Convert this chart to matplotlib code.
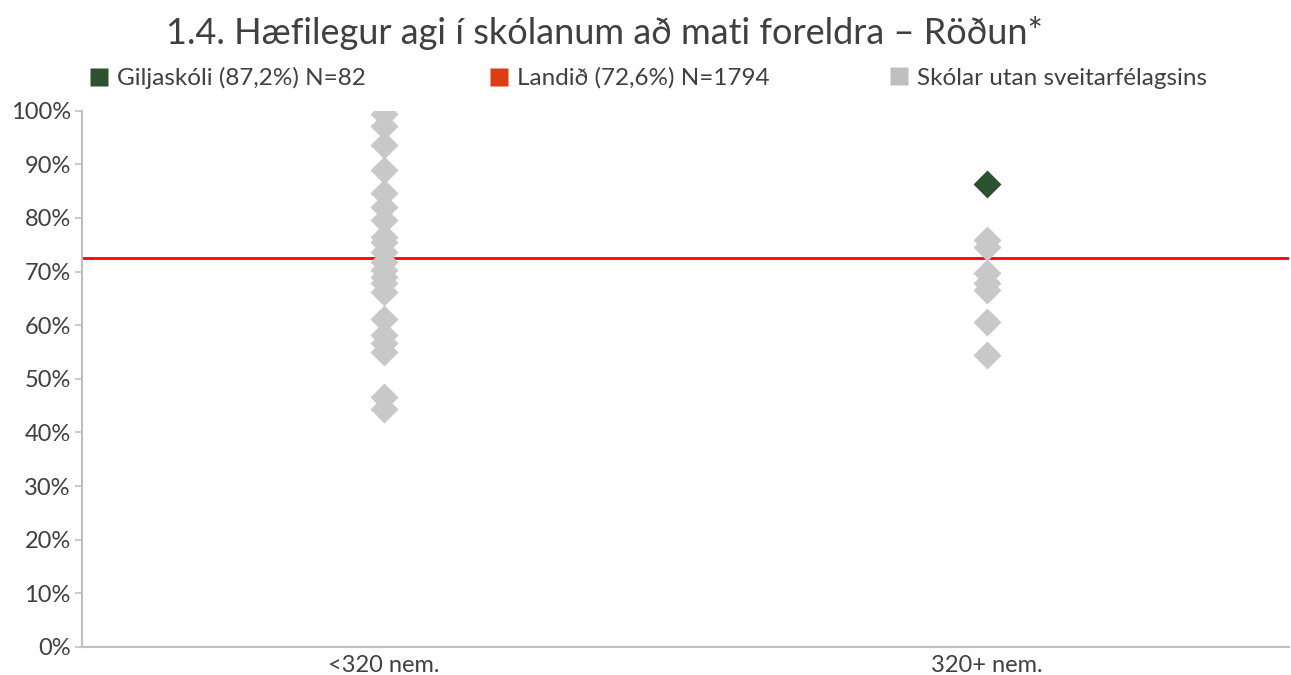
import matplotlib
matplotlib.use('Agg')
import matplotlib.pyplot as plt
from matplotlib.lines import Line2D
from matplotlib.ticker import FuncFormatter

plt.rcParams['font.family'] = ['Lato', 'DejaVu Sans']

# gögn lesin af myndinni
categories = ['<320 nem.', '320+ nem.']
other_small = [99.3, 97.1, 93.6, 89.0, 84.6, 82.1, 79.6, 76.5, 75.6, 73.7,
               71.8, 70.3, 69.0, 67.8, 66.2, 61.2, 58.1, 56.6, 55.0, 46.6, 44.4]
other_large = [75.9, 74.6, 69.7, 67.8, 66.5, 60.6, 54.4]
school_cat = 1
school_val = 86.3
national = 72.6

legend_labels = ['Giljaskóli (87,2%) N=82', 'Landið (72,6%) N=1794',
                 'Skólar utan sveitarfélagsins']

grey = '#c8c8c8'
green = '#2d5230'
red = '#ff0000'
text_col = '#404040'

fig = plt.figure(figsize=(12.91, 6.75), dpi=100)
ax = fig.add_axes([0.0635, 0.0415, 0.935, 0.7945])

ax.axhline(national, color=red, lw=2, zorder=1)
ax.plot([0] * len(other_small), other_small, 'D', color=grey, ms=14, mec='none', zorder=2)
ax.plot([1] * len(other_large), other_large, 'D', color=grey, ms=14, mec='none', zorder=2)
ax.plot([school_cat], [school_val], 'D', color=green, ms=14, mec='none', zorder=3)

ax.set_xlim(-0.5, 1.5)
ax.set_ylim(0, 100)
ax.set_xticks(range(len(categories)))
ax.set_xticklabels(categories)
ax.set_yticks(range(0, 101, 10))
ax.yaxis.set_major_formatter(FuncFormatter(lambda v, p: f'{int(v)}%'))
ax.tick_params(axis='x', length=0, labelsize=17, colors=text_col, pad=6)
ax.tick_params(axis='y', length=5, width=1.2, color='#bfbfbf', labelsize=17,
               labelcolor=text_col, pad=3)
for s in ['top', 'right']:
    ax.spines[s].set_visible(False)
for s in ['left', 'bottom']:
    ax.spines[s].set_color('#bfbfbf')
    ax.spines[s].set_linewidth(1.5)

fig.text(0.468, 0.951, '1.4. Hæfilegur agi í skólanum að mati foreldra – Röðun*',
         ha='center', va='center', fontsize=26, color='#404040')

# þrjár sjálfstæðar skýringar svo þær byrji á réttum stöðum
leg_colors = [green, '#e03c14', '#bfbfbf']
leg_x = [0.069, 0.379, 0.689]
for c, lab, x in zip(leg_colors, legend_labels, leg_x):
    h = Line2D([], [], ls='none', marker='s', ms=13, color=c, mec='none')
    fig.legend([h], [lab], loc='center left', bbox_to_anchor=(x, 0.884),
               frameon=False, fontsize=17.5, labelcolor=text_col,
               handletextpad=0.35, handlelength=0.8, borderaxespad=0, borderpad=0)

fig.savefig('out.png', dpi=100)
